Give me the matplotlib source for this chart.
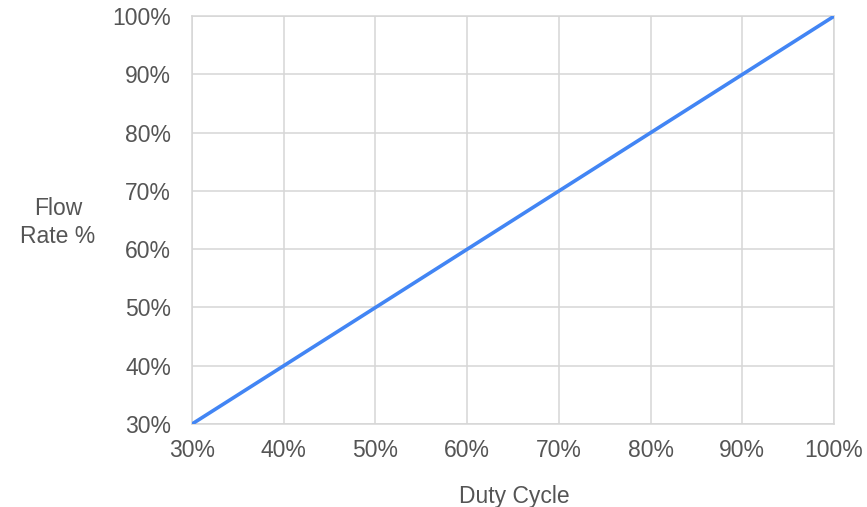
import matplotlib.pyplot as plt
from matplotlib.ticker import PercentFormatter

# Dados
dutyCycle = [30, 40, 50, 60, 70, 80, 90, 100]
flowRate = [30, 40, 50, 60, 70, 80, 90, 100]
ticks = [30, 40, 50, 60, 70, 80, 90, 100]

plt.rcParams['font.family'] = ['Liberation Sans', 'DejaVu Sans']
corTexto = '#555555'
corGrade = '#d6d6d6'
tamanhoFonte = 16.5

largura, altura = 867, 507
fig = plt.figure(figsize=(largura / 100, altura / 100), dpi=100)
ax = fig.add_axes([0.2215, 0.1637, 0.7405, 0.8043])

ax.plot(dutyCycle, flowRate, color='#4285F4', linewidth=2.6, solid_capstyle='butt', zorder=3)

ax.set_xlim(30, 100)
ax.set_ylim(30, 100)
ax.set_xticks(ticks)
ax.set_yticks(ticks)
ax.xaxis.set_major_formatter(PercentFormatter(decimals=0))
ax.yaxis.set_major_formatter(PercentFormatter(decimals=0))
ax.grid(True, color=corGrade, linewidth=1.1)
ax.tick_params(length=0, labelsize=tamanhoFonte, labelcolor=corTexto)
ax.tick_params(axis='y', pad=15)
ax.tick_params(axis='x', pad=11)
for spine in ax.spines.values():
    spine.set_color(corGrade)
    spine.set_linewidth(1.1)

# Títulos dos eixos como texto livre, na posição do original
fig.text(514 / largura, 1 - 503 / altura, 'Duty Cycle', fontsize=tamanhoFonte,
         color=corTexto, ha='center', va='baseline')
fig.text(58 / largura, 1 - 215 / altura, 'Flow', fontsize=tamanhoFonte,
         color=corTexto, ha='center', va='baseline')
fig.text(58 / largura, 1 - 243 / altura, 'Rate %', fontsize=tamanhoFonte,
         color=corTexto, ha='center', va='baseline')

fig.savefig('out.png', dpi=100)
